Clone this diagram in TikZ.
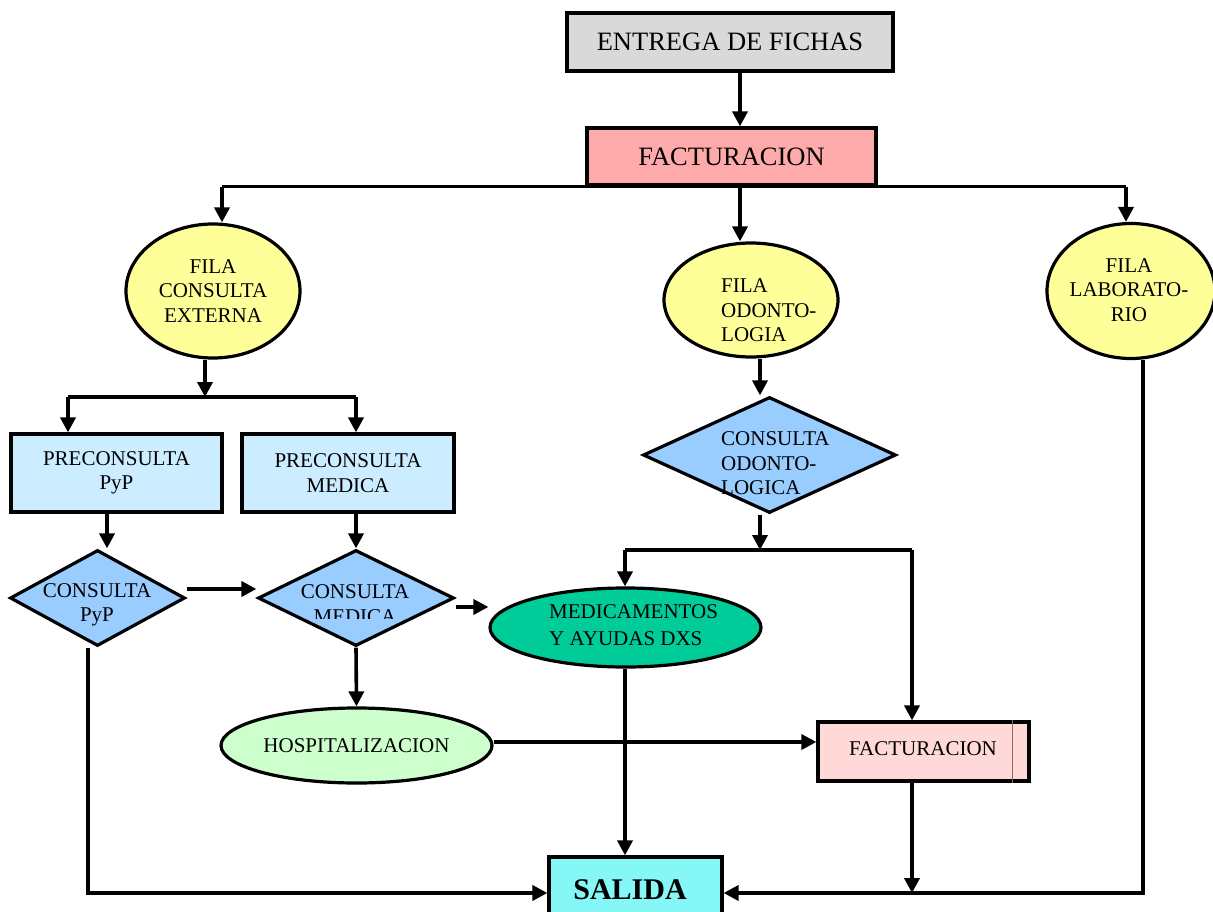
\documentclass[tikz,border=0pt]{standalone}
\usepackage{fontspec}
\setmainfont{Liberation Serif}
\usetikzlibrary{shapes.geometric,arrows.meta,calc}
\definecolor{cgray}{RGB}{217,217,217}
\definecolor{cpink}{RGB}{255,170,170}
\definecolor{cyel}{RGB}{255,255,153}
\definecolor{clblue}{RGB}{204,236,255}
\definecolor{cdia}{RGB}{153,204,255}
\definecolor{cmed}{RGB}{0,204,153}
\definecolor{chosp}{RGB}{204,255,204}
\definecolor{cfac}{RGB}{255,216,216}
\definecolor{cline}{RGB}{150,100,100}
\definecolor{csal}{RGB}{133,247,247}
\begin{document}
\begin{tikzpicture}[x=1pt,y=-1pt,
 box/.style={draw,line width=3.2pt,rectangle,inner sep=0pt},
 ell/.style={draw,line width=3.2pt,ellipse,inner sep=0pt},
 dia/.style={draw,line width=3.2pt,diamond,inner sep=0pt},
 ln/.style={line width=3.6pt},
 arr/.style={line width=3.6pt,-{Triangle[length=15pt,width=15pt]}},
 big/.style={font=\fontsize{26.5}{30}\selectfont},
 t21/.style={font=\fontsize{21}{24.5}\selectfont, align=center, inner sep=0pt},
 tl21/.style={font=\fontsize{21}{24.5}\selectfont, align=left, inner sep=0pt, anchor=west},
]
\useasboundingbox (0,0) rectangle (1213,912);

% shapes
\node[box,fill=cgray,minimum width=326,minimum height=58,big] (ent) at (730,42) {ENTREGA DE FICHAS};
\node[box,fill=cpink,minimum width=289,minimum height=57,big] (fac) at (731.5,156.5) {FACTURACION};
\node[ell,fill=cyel,minimum width=174,minimum height=134,t21] (fce) at (213,291) {FILA\\CONSULTA\\EXTERNA};
\node[ell,fill=cyel,minimum width=174,minimum height=114] (fod) at (751,300) {};
\node[tl21] (fodt) at (721,310.5) {FILA\\ODONTO-\\LOGIA};
\node[ell,fill=cyel,minimum width=168,minimum height=135] (flab) at (1131,291) {};
\node[t21] (flabt) at (1129,290) {FILA\\LABORATO-\\RIO};
\node[box,fill=clblue,minimum width=211,minimum height=78,t21] (ppyp) at (116.5,473) {PRECONSULTA\\PyP};
\node[box,fill=clblue,minimum width=212,minimum height=78,t21] (pmed) at (348,473) {PRECONSULTA\\MEDICA};
\node[dia,fill=cdia,minimum width=175,minimum height=96] (dpyp) at (97.5,598) {};
\node[t21] (dpypt) at (97,605) {CONSULTA\\PyP};
\node[dia,fill=cdia,minimum width=196,minimum height=96] (dmed) at (356,598) {};
\begin{scope}
\clip (0,0) rectangle (1213,618);
\node[t21] (dmedt) at (355,604) {CONSULTA\\MEDICA};
\end{scope}
\node[dia,fill=cdia,minimum width=253,minimum height=116] (dodo) at (769.5,455) {};
\node[tl21] (dodot) at (721,463.5) {CONSULTA\\ODONTO-\\LOGICA};
\node[ell,fill=cmed,minimum width=271,minimum height=79] (med) at (625.5,627.5) {};
\node[tl21,font=\fontsize{21}{26.5}\selectfont] (medt) at (549,625) {MEDICAMENTOS\\Y AYUDAS DXS};
\node[ell,fill=chosp,minimum width=271,minimum height=75,t21] (hosp) at (356.5,745.5) {HOSPITALIZACION};
\node[box,fill=cfac,minimum width=211,minimum height=59] (fac2) at (923.5,751.5) {};
\draw[line width=1.2pt,cline] ([xshift=-18pt]fac2.north east) -- ([xshift=-18pt]fac2.south east);
\node[t21] (fac2t) at (923,749) {FACTURACION};
\node[box,fill=csal,minimum width=173,minimum height=60] (sal) at (635.5,887) {};
\node[inner sep=0pt,font=\fontsize{30}{34}\selectfont\bfseries] (salt) at (630,890) {SALIDA};

% guide coordinates
\coordinate (c740) at (740,0);
\coordinate (c222) at (222,0);
\coordinate (c1126) at (1126,0);
\coordinate (s1) at (205,397);
\coordinate (c68) at (68,0);
\coordinate (c356) at (356,0);
\coordinate (c107) at (107,0);
\coordinate (c760) at (760,0);
\coordinate (s2) at (760,550);
\coordinate (c625) at (625,0);
\coordinate (c912) at (912,0);
\coordinate (c88) at (88,0);
\coordinate (c1143) at (1143,0);
\coordinate (y589) at (0,589);
\coordinate (y607) at (0,607);
\coordinate (y742) at (0,742);
\coordinate (y893) at (0,893);

% connectors
\draw[arr] (ent.south -| c740) -- (fac.north -| c740);
\draw[ln] (fac.south -| c222) -- (fac.south -| c1126);
\draw[arr] (fac.south -| c222) -- (fce.north -| c222);
\draw[arr] (fac.south -| c740) -- (fod.north -| c740);
\draw[arr] (fac.south -| c1126) -- (flab.north -| c1126);
\draw[arr] (fce.south -| s1) -- (s1);
\draw[ln] (s1 -| c68) -- (s1 -| c356);
\draw[arr] (s1 -| c68) -- (ppyp.north -| c68);
\draw[arr] (s1 -| c356) -- (pmed.north -| c356);
\draw[arr] (ppyp.south -| c107) -- (dpyp.north -| c107);
\draw[arr] (pmed.south -| c356) -- (dmed.north);
\draw[arr] (dpyp.east |- y589) -- (dmed.west |- y589);
\draw[arr] (dmed.east |- y607) -- (med.west |- y607);
\draw[arr] (fod.south -| c760) -- (dodo.north -| c760);
\draw[arr] (dodo.south -| c760) -- (s2);
\draw[ln] (s2 -| c625) -- (s2 -| c912);
\draw[arr] (s2 -| c625) -- (med.north -| c625);
\draw[arr] (s2 -| c912) -- (fac2.north -| c912);
\draw[arr] (dmed.south) -- (hosp.north);
\draw[arr] (hosp.east |- y742) -- (fac2.west |- y742);
\draw[arr] (med.south -| c625) -- (sal.north -| c625);
\draw[arr] (dpyp.south -| c88) |- (sal.west |- y893);
\draw[arr] (flab.south -| c1143) |- (sal.east |- y893);
\draw[arr] (fac2.south -| c912) -- (c912 |- y893);
\end{tikzpicture}
\end{document}
